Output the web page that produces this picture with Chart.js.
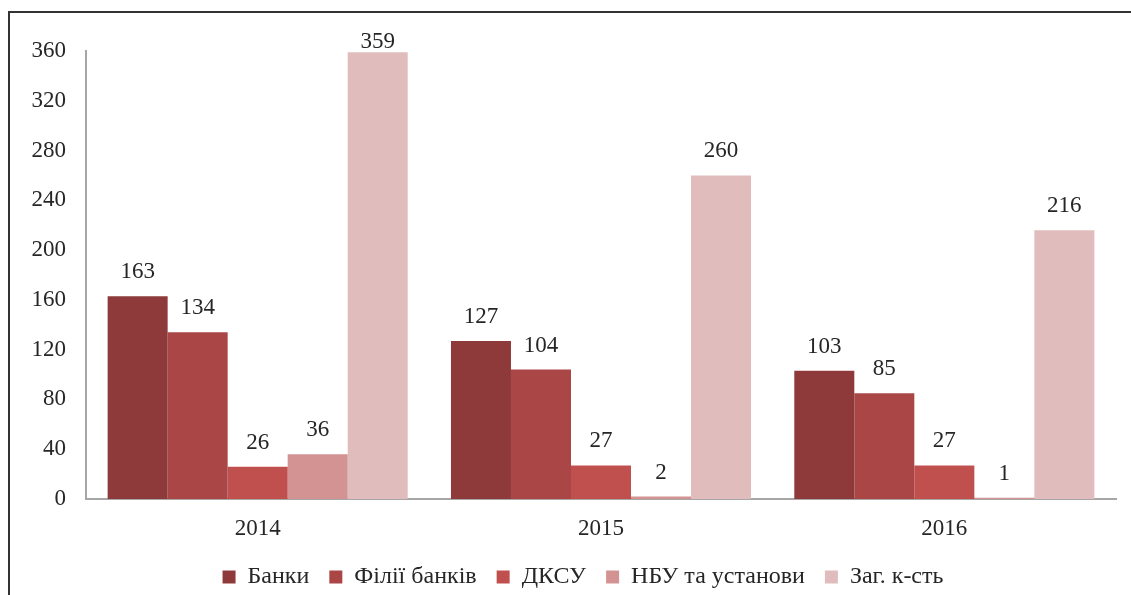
<!DOCTYPE html>
<html>
<head>
<meta charset="utf-8">
<script src="https://cdn.jsdelivr.net/npm/chart.js@4"></script>
<style>
  html, body { margin: 0; padding: 0; background: #fff; }
  #wrap { position: relative; width: 1131px; height: 595px; }
  #frame {
    position: absolute; left: 8px; top: 11px; width: 1140px; height: 600px;
    border-left: 2px solid #333; border-top: 2px solid #333; pointer-events: none;
  }
</style>
</head>
<body>
<div id="wrap">
  <canvas id="main-chart" width="1131" height="595"></canvas>
  <div id="frame"></div>
</div>
<script>
// Categories and series
const years = ["2014", "2015", "2016"];
const seriesNames = ["Банки", "Філії банків", "ДКСУ", "НБУ та установи", "Заг. к-сть"];
const banks = [163, 127, 103];
const branches = [134, 104, 85];
const dksu = [26, 27, 27];
const nbu = [36, 2, 1];
const total = [359, 260, 216];
const yTicks = [0, 40, 80, 120, 160, 200, 240, 280, 320, 360];

const colors = ["#8E3A3A", "#AA4746", "#C0504D", "#D39392", "#E1BCBD"];
const serif = "'Liberation Serif', 'Times New Roman', serif";

const datasets = [banks, branches, dksu, nbu, total].map((vals, i) => {
  return {
    label: seriesNames[i],
    data: vals,
    backgroundColor: colors[i],
    borderWidth: 0,
    categoryPercentage: 0.874,
    barPercentage: 1.0,
  };
});

// Value labels above bars
const valueLabels = {
  id: "valueLabels",
  afterDatasetsDraw(chart) {
    const ctx = chart.ctx;
    ctx.save();
    ctx.font = "23px " + serif;
    ctx.fillStyle = "#262626";
    ctx.textAlign = "center";
    ctx.textBaseline = "middle";
    chart.data.datasets.forEach((ds, i) => {
      chart.getDatasetMeta(i).data.forEach((bar, j) => {
        let y = bar.y - 24;
        if (y < chart.chartArea.top - 9) y = chart.chartArea.top - 9;
        ctx.fillText(String(ds.data[j]), bar.x, y);
      });
    });
    ctx.restore();
  },
};

// Nudge legend a bit to the right
const legendShift = {
  id: "legendShift",
  afterLayout(chart) {
    chart.legend.left += 50;
  },
};

const mainChart = document.getElementById("main-chart").getContext("2d");

new Chart(mainChart, {
  type: "bar",
  data: {
    labels: years,
    datasets: datasets,
  },
  options: {
    responsive: false,
    animation: false,
    layout: {
      padding: { top: 51, right: 15, left: 0, bottom: 0 },
    },
    scales: {
      x: {
        grid: { display: false },
        border: { display: true, color: "#A6A6A6", width: 2 },
        ticks: { color: "#262626", font: { family: serif, size: 23 }, padding: 8 },
        afterFit(scale) {
          scale.height = 46;
        },
      },
      y: {
        min: 0,
        max: 360,
        grid: { display: false },
        border: { display: true, color: "#A6A6A6", width: 2 },
        afterBuildTicks(scale) {
          scale.ticks = yTicks.map((v) => ({ value: v }));
        },
        ticks: { color: "#262626", font: { family: serif, size: 23 }, padding: 12 },
        afterFit(scale) {
          scale.width = 86;
        },
      },
    },
    plugins: {
      legend: {
        position: "bottom",
        maxHeight: 50,
        labels: {
          color: "#262626",
          font: { family: serif, size: 24 },
          boxWidth: 13,
          boxHeight: 13,
          padding: 20,
        },
      },
      tooltip: { enabled: false },
    },
  },
  plugins: [valueLabels, legendShift],
});
</script>
</body>
</html>
